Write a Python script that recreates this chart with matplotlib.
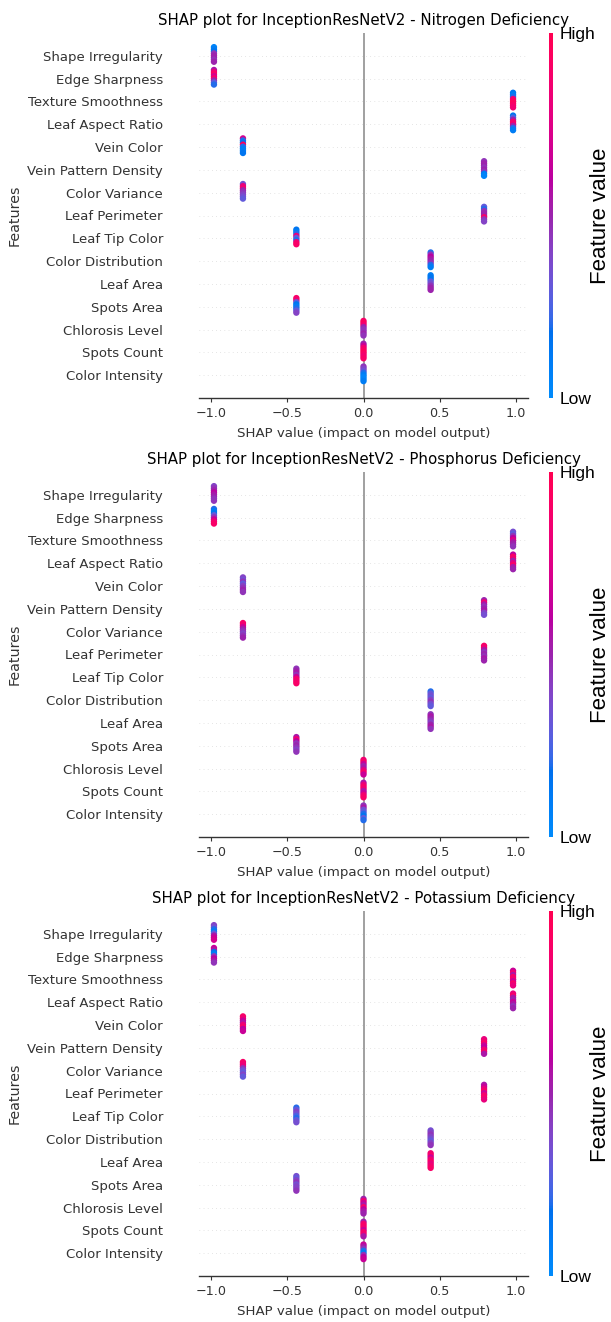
import numpy as np
import matplotlib
matplotlib.use("Agg")
import matplotlib.pyplot as plt
from matplotlib.colors import LinearSegmentedColormap, Normalize
from matplotlib.cm import ScalarMappable

# ---------------- data ----------------
features = ["Shape Irregularity", "Edge Sharpness", "Texture Smoothness", "Leaf Aspect Ratio",
            "Vein Color", "Vein Pattern Density", "Color Variance", "Leaf Perimeter",
            "Leaf Tip Color", "Color Distribution", "Leaf Area", "Spots Area",
            "Chlorosis Level", "Spots Count", "Color Intensity"]

shap_values = [-0.98, -0.98, 0.98, 0.98, -0.79, 0.79, -0.79, 0.79,
               -0.44, 0.44, 0.44, -0.44, 0.0, 0.0, 0.0]

titles = ["SHAP plot for InceptionResNetV2 - Nitrogen Deficiency",
          "SHAP plot for InceptionResNetV2 - Phosphorus Deficiency",
          "SHAP plot for InceptionResNetV2 - Potassium Deficiency"]

# feature values (0 = low, 1 = high) of the stacked samples, listed top to bottom
nitrogen_fv = [
    [0.05, 0.1, 0.15, 0.45, 0.5, 0.5, 0.45, 0.5],
    [0.55, 0.85, 0.9, 0.7, 0.9, 0.5, 0.3, 0.2],
    [0.15, 0.1, 0.2, 0.85, 0.95, 0.95, 0.9, 0.85],
    [0.15, 0.25, 0.5, 0.9, 0.85, 0.5, 0.2, 0.1],
    [0.7, 0.2, 0.15, 0.95, 0.2, 0.1, 0.1, 0.15],
    [0.45, 0.5, 0.5, 0.45, 0.5, 0.45, 0.1, 0.05],
    [0.35, 0.8, 0.85, 0.5, 0.45, 0.4, 0.35, 0.3],
    [0.3, 0.2, 0.45, 0.5, 0.5, 0.9, 0.45, 0.4],
    [0.15, 0.1, 0.2, 0.8, 0.3, 0.2, 0.85, 0.9],
    [0.2, 0.45, 0.6, 0.55, 0.5, 0.45, 0.2, 0.1],
    [0.1, 0.15, 0.15, 0.3, 0.35, 0.45, 0.5, 0.5],
    [0.9, 0.85, 0.3, 0.15, 0.1, 0.2, 0.3, 0.4],
    [0.9, 0.95, 0.85, 0.5, 0.45, 0.45, 0.5, 0.45],
    [0.5, 0.65, 0.85, 0.9, 0.95, 0.9, 0.85, 0.9],
    [0.45, 0.4, 0.35, 0.2, 0.1, 0.05, 0.05, 0.1],
]
phosphorus_fv = [
    [0.4, 0.45, 0.5, 0.6, 0.55, 0.5, 0.45, 0.45],
    [0.2, 0.1, 0.15, 0.3, 0.45, 0.65, 0.85, 0.9],
    [0.35, 0.3, 0.45, 0.6, 0.75, 0.55, 0.5, 0.45],
    [0.6, 0.9, 0.85, 0.5, 0.75, 0.9, 0.55, 0.5],
    [0.4, 0.35, 0.45, 0.3, 0.4, 0.45, 0.5, 0.45],
    [0.5, 0.85, 0.55, 0.45, 0.5, 0.55, 0.4, 0.35],
    [0.9, 0.85, 0.65, 0.5, 0.45, 0.4, 0.45, 0.5],
    [0.9, 0.85, 0.55, 0.45, 0.5, 0.45, 0.55, 0.5],
    [0.45, 0.5, 0.55, 0.45, 0.65, 0.9, 0.85, 0.9],
    [0.2, 0.3, 0.35, 0.3, 0.4, 0.45, 0.35, 0.3],
    [0.45, 0.55, 0.5, 0.45, 0.4, 0.5, 0.55, 0.45],
    [0.55, 0.85, 0.6, 0.45, 0.5, 0.45, 0.4, 0.45],
    [0.85, 0.9, 0.65, 0.5, 0.55, 0.8, 0.9, 0.65],
    [0.55, 0.8, 0.9, 0.85, 0.55, 0.65, 0.85, 0.9],
    [0.45, 0.55, 0.35, 0.3, 0.2, 0.15, 0.3, 0.2],
]
potassium_fv = [
    [0.4, 0.35, 0.2, 0.1, 0.3, 0.55, 0.65, 0.7],
    [0.65, 0.55, 0.15, 0.1, 0.45, 0.6, 0.55, 0.45],
    [0.65, 0.85, 0.55, 0.9, 0.85, 0.65, 0.9, 0.8],
    [0.8, 0.9, 0.55, 0.5, 0.65, 0.55, 0.45, 0.5],
    [0.9, 0.85, 0.65, 0.55, 0.8, 0.9, 0.6, 0.65],
    [0.8, 0.85, 0.9, 0.65, 0.6, 0.85, 0.9, 0.55],
    [0.9, 0.85, 0.8, 0.45, 0.35, 0.3, 0.4, 0.3],
    [0.55, 0.65, 0.8, 0.9, 0.65, 0.85, 0.9, 0.8],
    [0.2, 0.3, 0.4, 0.35, 0.25, 0.2, 0.3, 0.35],
    [0.35, 0.4, 0.45, 0.4, 0.35, 0.3, 0.4, 0.45],
    [0.85, 0.9, 0.65, 0.85, 0.9, 0.8, 0.85, 0.9],
    [0.35, 0.3, 0.4, 0.45, 0.35, 0.4, 0.4, 0.45],
    [0.5, 0.85, 0.65, 0.55, 0.9, 0.6, 0.55, 0.5],
    [0.5, 0.85, 0.9, 0.85, 0.65, 0.9, 0.85, 0.55],
    [0.65, 0.55, 0.45, 0.2, 0.1, 0.45, 0.6, 0.65],
]
panel_values = [nitrogen_fv, phosphorus_fv, potassium_fv]


# ---------------- SHAP red-blue colormap (LCH interpolation) ----------------
def lch_to_rgb(l, c, h):
    a = c * np.cos(h)
    b = c * np.sin(h)
    fy = (l + 16.0) / 116.0
    fx = fy + a / 500.0
    fz = fy - b / 200.0

    def finv(t):
        t3 = t ** 3
        return np.where(t3 > 0.008856, t3, (t - 16.0 / 116.0) / 7.787)

    X = 0.95047 * finv(fx)
    Y = 1.00000 * finv(fy)
    Z = 1.08883 * finv(fz)
    M = np.array([[3.2406, -1.5372, -0.4986],
                  [-0.9689, 1.8758, 0.0415],
                  [0.0557, -0.2040, 1.0570]])
    rgb = M @ np.array([X, Y, Z])
    rgb = np.where(rgb > 0.0031308, 1.055 * np.abs(rgb) ** (1 / 2.4) - 0.055, 12.92 * rgb)
    return np.clip(rgb, 0, 1)


blue_lch = [54.0, 70.0, 4.6588]
red_lch = [54.0, 90.0, 0.35470565 + 2 * np.pi]
l_mid = 40.0
nsteps = 100
l_vals = list(np.linspace(blue_lch[0], l_mid, nsteps // 2)) + list(np.linspace(l_mid, red_lch[0], nsteps // 2))
c_vals = np.linspace(blue_lch[1], red_lch[1], nsteps)
h_vals = np.linspace(blue_lch[2], red_lch[2], nsteps)
cols = [lch_to_rgb(l, c, h) for l, c, h in zip(l_vals, c_vals, h_vals)]
red_blue = LinearSegmentedColormap.from_list("red_blue", cols, N=256)

# ---------------- figure ----------------
W, H = 611, 1322
fig = plt.figure(figsize=(W / 100, H / 100), dpi=100)

axis_color = "#333333"
ax_left = 199 / W
ax_width = 329 / W
panel_tops = [33, 472, 911]
panel_h = 365

n = len(features)
for title, fv, top in zip(titles, panel_values, panel_tops):
    bottom = 1 - (top + panel_h) / H
    ax = fig.add_axes([ax_left, bottom, ax_width, panel_h / H])

    ax.axvline(0, color="#999999", lw=1.3, zorder=-1)
    for i, (sv, vals) in enumerate(zip(shap_values, fv)):
        pos = n - 1 - i
        ax.axhline(pos, color="#cccccc", lw=0.5, dashes=(1, 5), zorder=-1)
        k = len(vals)
        offs = np.linspace(0.38, -0.26, k)
        ax.scatter(np.full(k, sv), pos + offs, c=vals, cmap=red_blue, vmin=0, vmax=1,
                   s=21, linewidth=0, zorder=3)

    ax.set_ylim(-1, n)
    ax.set_yticks(range(n))
    ax.set_yticklabels(features[::-1], fontsize=9.5, color=axis_color)
    ax.tick_params(axis="y", length=0, pad=26)
    ax.set_xticks([-1.0, -0.5, 0.0, 0.5, 1.0])
    ax.tick_params(axis="x", length=3, width=0.8, color=axis_color, labelcolor=axis_color,
                   labelsize=9.2, pad=3.5)
    for s in ["top", "right", "left"]:
        ax.spines[s].set_visible(False)
    ax.spines["bottom"].set_color(axis_color)
    ax.spines["bottom"].set_linewidth(1.0)
    ax.set_xlabel("SHAP value (impact on model output)", fontsize=9.6, color=axis_color, labelpad=5)
    ax.set_ylabel("Features", fontsize=10.3, color=axis_color)
    ax.set_title(title, fontsize=10.8, pad=6)

    cax = fig.add_axes([549 / W, bottom, 4 / W, panel_h / H])
    cb = fig.colorbar(ScalarMappable(norm=Normalize(0, 1), cmap=red_blue), cax=cax, ticks=[0, 1])
    cb.set_ticklabels(["Low", "High"])
    cb.outline.set_visible(False)
    cax.tick_params(length=0, pad=5, labelsize=12.5)
    for lab in cax.get_yticklabels():
        lab.set_fontfamily("Liberation Sans")
    fig.text(601 / W, 1 - (top + panel_h / 2) / H, "Feature value", rotation=90,
             ha="center", va="center", fontsize=16, family="Liberation Sans")

fig.savefig("out.png", dpi=100)
